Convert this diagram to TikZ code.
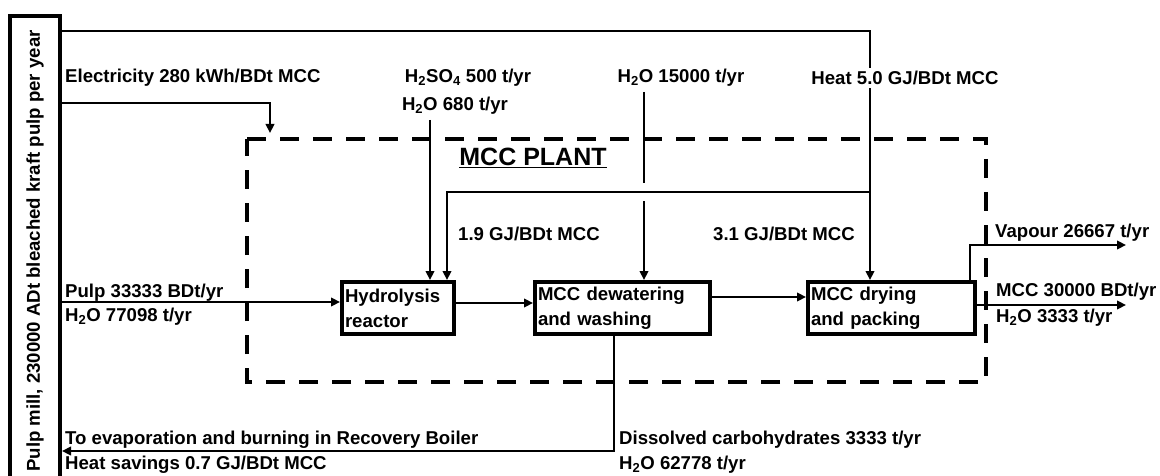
\documentclass[tikz,border=0pt]{standalone}
\usepackage{fontspec}
\setmainfont{Liberation Sans}
\usetikzlibrary{arrows.meta,calc}
\begin{document}
\begin{tikzpicture}[x=1pt,y=-1pt,
  every node/.style={font=\fontsize{18.6}{25}\selectfont\bfseries, inner sep=0pt},
  conn/.style={line width=2.6pt},
  arr/.style={conn,-{Triangle[length=9pt,width=8.5pt]}},
  proc/.style={draw, line width=4pt, minimum height=52pt, align=left, anchor=center},
  lbl/.style={anchor=west},
  plant/.style={line width=4.5pt, dash pattern=on 19pt off 14pt}
]
\useasboundingbox (0,0) rectangle (1160,476);
\fill[white] (0,0) rectangle (1160,476);

% pulp mill box
\node[draw, line width=4pt, rotate=90, minimum width=470pt, minimum height=50pt] (mill) at (35,251)
  {Pulp mill, 230000 ADt bleached kraft pulp per year};

% MCC plant boundary
\draw[plant] (247,139) -- (986,139) -- (986,382) -- (247,382) -- cycle;
\node (plantlbl) at (533,158) {\fontsize{25}{28}\selectfont\underline{MCC PLANT}};

% process boxes
\node[proc, minimum width=112pt, text width=106pt] (hyd) at (398,308) {Hydrolysis\\reactor};
\node[proc, minimum width=175pt, text width=169pt] (dew) at (622.5,308) {MCC dewatering\\and washing};
\node[proc, minimum width=167pt, text width=161pt] (dry) at (891.5,308) {MCC drying\\and packing};

% coordinates
\coordinate (ctop0) at (62,31);
\coordinate (ctop1) at (870,31);
\coordinate (cbr) at (870,192);
\coordinate (cbrl) at (447,192);
\coordinate (cel0) at (62,103);
\coordinate (cel1) at (270,103);
\coordinate (cel2) at (270,133);
\coordinate (csa) at (430,120);
\coordinate (cwat) at (644,92);
\coordinate (cpin) at (62,302);
\coordinate (cy1) at (0,303);
\coordinate (cy2) at (0,297);
\coordinate (cvx) at (970,245);
\coordinate (cvend) at (1126,245);
\coordinate (cmy) at (0,305);
\coordinate (cmend) at (1126,305);
\coordinate (cdx) at (614,451);
\coordinate (cdend) at (62,451);

% water to dewatering (drawn first so the heat branch crosses over it)
\draw[arr] (cwat) -- (cwat |- dew.north);

% heat branch to hydrolysis
\draw[arr, preaction={draw, white, line width=18pt, -}] (cbr) -- (cbrl) -- (cbrl |- hyd.north);

% heat main line
\draw[arr] (ctop0) -- (ctop1) -- (ctop1 |- dry.north);
\node[fill=white, inner ysep=3pt] (heatlbl) at (905,78) {Heat 5.0 GJ/BDt MCC};

% electricity
\draw[arr] (cel0) -- (cel1) -- (cel2);
\node[lbl] (ellbl) at (65,78) {Electricity 280 kWh/BDt MCC};

% acid
\draw[arr] (csa) -- (csa |- hyd.north);
\node (salbl) at (468,78) {H\textsubscript{2}SO\textsubscript{4} 500 t/yr};
\node (salbl2) at (455,106) {H\textsubscript{2}O 680 t/yr};
\node (watlbl) at (681,78) {H\textsubscript{2}O 15000 t/yr};

\node[lbl] (h1lbl) at (458,234) {1.9 GJ/BDt MCC};
\node[lbl] (h2lbl) at (713,234) {3.1 GJ/BDt MCC};

% pulp in
\draw[arr] (cpin) -- (cpin -| hyd.west);
\node[lbl] (pl1) at (65,293) {Pulp 33333 BDt/yr};
\node[lbl] (pl2) at (65,317) {H\textsubscript{2}O 77098 t/yr};

% process flow
\draw[arr] (hyd.east |- cy1) -- (dew.west |- cy1);
\draw[arr] (dew.east |- cy2) -- (dry.west |- cy2);

% vapour
\draw[arr] (cvx |- dry.north) -- (cvx) -- (cvend);
\node[lbl] (vaplbl) at (995,233) {Vapour 26667 t/yr};

% MCC product
\draw[arr] (dry.east |- cmy) -- (cmend);
\node[lbl] (m1) at (996,292) {MCC 30000 BDt/yr};
\node[lbl] (m2) at (996,318) {H\textsubscript{2}O 3333 t/yr};

% dissolved to recovery
\draw[arr] (cdx |- dew.south) -- (cdx) -- (cdend);
\node[lbl] (r1) at (65,440) {To evaporation and burning in Recovery Boiler};
\node[lbl] (r2) at (65,465) {Heat savings 0.7 GJ/BDt MCC};
\node[lbl] (d1) at (619,440) {Dissolved carbohydrates 3333 t/yr};
\node[lbl] (d2) at (619,465) {H\textsubscript{2}O 62778 t/yr};
\end{tikzpicture}
\end{document}
